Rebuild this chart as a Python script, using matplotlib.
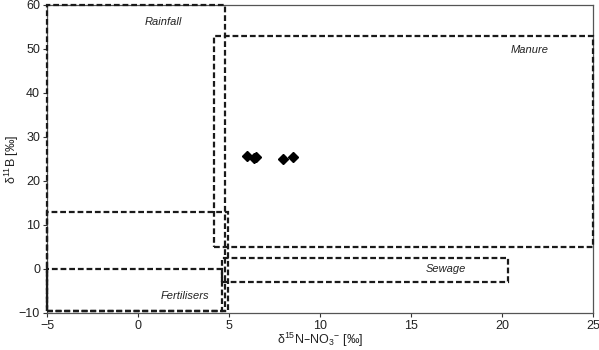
import matplotlib
matplotlib.use("Agg")
import matplotlib.pyplot as plt
from matplotlib.patches import Rectangle

plt.rcParams['font.family'] = ['Liberation Sans', 'DejaVu Sans']
plt.rcParams['mathtext.default'] = 'regular'

# Source boxes: name, x0, x1, y0, y1
box_names = ["Rainfall", "Fertilisers", "Fertilisers (low)", "Manure", "Sewage"]
box_x0 = [-5.0, -5.0, -5.0, 4.15, 4.6]
box_x1 = [4.8, 4.95, 4.6, 25.0, 20.3]
box_y0 = [-9.5, -9.5, -9.5, 5.0, -2.9]
box_y1 = [60.0, 13.0, 0.0, 53.0, 2.4]

# Source labels
label_texts = ["Rainfall", "Manure", "Sewage", "Fertilisers"]
label_x = [1.4, 21.5, 16.9, 2.55]
label_y = [56.2, 49.8, 0.0, -6.1]

# Samples
sample_x = [5.97, 6.34, 6.48, 7.95, 8.5]
sample_y = [25.7, 25.1, 25.4, 25.0, 25.4]

x_ticks = [-5, 0, 5, 10, 15, 20, 25]
y_ticks = [-10, 0, 10, 20, 30, 40, 50, 60]

fig = plt.figure(figsize=(5.99, 3.5), dpi=100)
ax = fig.add_axes([0.0785, 0.106, 0.912, 0.880])

for x0, x1, y0, y1 in zip(box_x0, box_x1, box_y0, box_y1):
    ax.add_patch(Rectangle((x0, y0), x1 - x0, y1 - y0, fill=False,
                           edgecolor='#1a1a1a', linewidth=1.6,
                           linestyle=(0, (2.6, 1.3)), zorder=3,
                           clip_on=False))

for t, x, y in zip(label_texts, label_x, label_y):
    ax.text(x, y, t, ha='center', va='center', fontstyle='italic',
            fontsize=8, color='#222222')

ax.plot(sample_x, sample_y, linestyle='none', marker='D', markersize=4.6,
        color='black', zorder=4)

ax.set_xlim(-5, 25)
ax.set_ylim(-10, 60)
ax.set_xticks(x_ticks)
ax.set_yticks(y_ticks)
ax.tick_params(direction='out', length=3, width=0.8, labelsize=9,
               colors='#333333', labelcolor='#222222', pad=2)
for s in ax.spines.values():
    s.set_color('#555555')
    s.set_linewidth(0.9)

ax.set_xlabel(r'δ$^{15}$N–NO$_3$$^{-}$ [‰]', fontsize=9, color='#222222')
ax.set_ylabel(r'δ$^{11}$B [‰]', fontsize=9, color='#222222')
ax.xaxis.set_label_coords(0.5, -0.088)
ax.yaxis.set_label_coords(-0.064, 0.5)
ax.xaxis.label.set_va('center')
ax.yaxis.label.set_va('center')

fig.savefig('out.png', dpi=100)
